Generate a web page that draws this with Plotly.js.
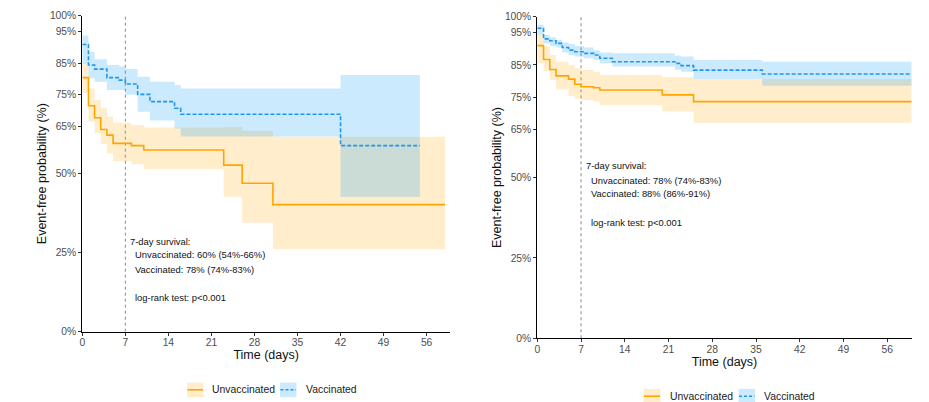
<!DOCTYPE html>
<html><head><meta charset="utf-8">
<script src="https://cdn.plot.ly/plotly-3.0.1.min.js"></script>
<style>html,body{margin:0;padding:0;background:#fff}</style>
</head><body><div id="chart" style="width:929px;height:402px"></div>
<script>
// ---------- DATA ----------
// Left panel
const leftUnvTime  = [0, 1, 2, 3, 4, 5, 8, 10, 23, 26, 31, 59];
const leftUnvSurv  = [80.4, 71.5, 67.7, 64.0, 62.2, 59.6, 58.9, 57.5, 52.7, 47.0, 40.2, 40.2];
const leftUnvUpper = [85.0, 77.0, 73.3, 70.7, 68.0, 66.1, 65.4, 64.6, 64.8, 63.6, 61.7, 61.7];
const leftUnvLower = [75.6, 66.5, 62.8, 59.4, 56.5, 54.0, 53.0, 51.4, 42.7, 34.5, 26.1, 26.1];

const leftVacTime  = [0, 1, 2, 4, 6, 7, 9, 11, 15, 16, 42, 54.9];
const leftVacSurv  = [90.9, 84.4, 83.1, 80.4, 79.6, 78.4, 75.1, 72.8, 70.7, 68.8, 58.9, 58.9];
const leftVacUpper = [93.7, 88.6, 86.2, 84.4, 83.9, 83.1, 80.7, 79.1, 78.1, 77.0, 81.2, 81.2];
const leftVacLower = [84.9, 80.2, 79.1, 76.5, 76.5, 75.0, 69.6, 66.8, 64.3, 61.8, 42.7, 42.7];

// Right panel
const rightUnvTime  = [0, 1, 2, 3, 5, 6, 7, 9, 10, 20, 25, 59.9];
const rightUnvSurv  = [91.0, 86.7, 83.6, 81.6, 80.6, 79.0, 78.2, 77.9, 77.2, 75.7, 73.6, 73.6];
const rightUnvUpper = [94.4, 90.7, 88.1, 86.0, 85.0, 84.0, 83.4, 82.9, 81.9, 81.2, 80.6, 80.6];
const rightUnvLower = [85.5, 83.2, 80.3, 77.4, 75.3, 74.5, 74.1, 73.6, 72.5, 70.5, 67.0, 67.0];

const rightVacTime  = [0, 1, 2, 3, 4, 5, 6, 7.5, 9, 10, 12, 22, 23, 25, 36, 59.9];
const rightVacSurv  = [96.4, 93.1, 92.5, 91.7, 90.4, 89.6, 89.1, 88.6, 88.1, 87.1, 86.0, 85.5, 84.8, 83.4, 82.2, 82.2];
const rightVacUpper = [97.5, 94.3, 93.6, 92.8, 92.0, 91.5, 90.9, 90.4, 89.6, 88.9, 88.6, 87.9, 87.6, 86.5, 86.0, 86.0];
const rightVacLower = [94.4, 91.7, 90.9, 90.4, 88.9, 88.1, 87.6, 87.1, 86.5, 85.5, 84.5, 83.5, 82.9, 80.6, 78.5, 78.5];

// Ticks
const xTickVals = [0, 7, 14, 21, 28, 35, 42, 49, 56];
const yTickVals = [0, 25, 50, 65, 75, 85, 95, 100];
const yTickText = ["0%", "25%", "50%", "65%", "75%", "85%", "95%", "100%"];
const landmarkDay = 7;

// Annotation texts
const leftNote  = ["7-day survival:", "Unvaccinated: 60% (54%-66%)", "Vaccinated: 78% (74%-83%)", "log-rank test: p&lt;0.001"];
const rightNote = ["7-day survival:", "Unvaccinated: 78% (74%-83%)", "Vaccinated: 88% (86%-91%)", "log-rank test: p&lt;0.001"];
const groupNames = ["Unvaccinated", "Vaccinated"];

// ---------- STYLE ----------
const FONT = "Liberation Sans, Arial, Helvetica, sans-serif";
const orange = "#FFA500", blue = "#1E96F0";
const orangeFill = "rgba(255,165,0,0.2)", blueFill = "rgba(20,158,250,0.22)";
const W = 929, H = 402, M = {l: 82, r: 17, t: 15, b: 63};
const PW = W - M.l - M.r, PH = H - M.t - M.b;
const px = x => (x - M.l) / PW;
const py = y => (H - M.b - y) / PH;

function band(t, up, lo, fill, xa, ya) {
  return [
    {x: t, y: up, xaxis: xa, yaxis: ya, mode: "lines", line: {shape: "hv", width: 0, color: fill}, hoverinfo: "skip", showlegend: false},
    {x: t, y: lo, xaxis: xa, yaxis: ya, mode: "lines", line: {shape: "hv", width: 0, color: fill}, fill: "tonexty", fillcolor: fill, hoverinfo: "skip", showlegend: false}
  ];
}
function curve(t, s, color, dash, xa, ya, name) {
  return {x: t, y: s, xaxis: xa, yaxis: ya, mode: "lines", name: name, line: {shape: "hv", width: 1.6, color: color, dash: dash}, showlegend: false};
}

const data = [
  ...band(leftUnvTime, leftUnvUpper, leftUnvLower, orangeFill, "x", "y"),
  ...band(leftVacTime, leftVacUpper, leftVacLower, blueFill, "x", "y"),
  curve(leftUnvTime, leftUnvSurv, orange, "solid", "x", "y", groupNames[0]),
  curve(leftVacTime, leftVacSurv, blue, "4px,2px", "x", "y", groupNames[1]),
  ...band(rightUnvTime, rightUnvUpper, rightUnvLower, orangeFill, "x2", "y2"),
  ...band(rightVacTime, rightVacUpper, rightVacLower, blueFill, "x2", "y2"),
  curve(rightUnvTime, rightUnvSurv, orange, "solid", "x2", "y2", groupNames[0]),
  curve(rightVacTime, rightVacSurv, blue, "4px,2px", "x2", "y2", groupNames[1])
];

const axisCommon = {
  showline: true, linecolor: "#000", linewidth: 1, ticks: "outside", ticklen: 3,
  tickcolor: "#333", tickwidth: 1, showgrid: false, zeroline: false,
  tickfont: {family: FONT, size: 10.3, color: "#4d4d4d"}, fixedrange: true
};
const xTitle = {text: "Time (days)", font: {family: FONT, size: 12.5, color: "#111"}, standoff: 0};
const yTitle = {text: "Event-free probability (%)", font: {family: FONT, size: 12.5, color: "#111"}, standoff: 0};

const layout = {
  width: W, height: H, margin: M, paper_bgcolor: "#fff", plot_bgcolor: "rgba(0,0,0,0)",
  showlegend: false, font: {family: FONT},
  xaxis:  {...axisCommon, domain: [px(82.3), px(450)], range: [0, 59.8], tickvals: xTickVals, anchor: "y", title: xTitle, ticklabelstandoff: -2},
  yaxis:  {...axisCommon, domain: [py(331.7), py(15.7)], range: [0, 100], tickvals: yTickVals, ticktext: yTickText, anchor: "x", title: yTitle},
  xaxis2: {...axisCommon, domain: [px(537.3), px(911.7)], range: [0, 59.9], tickvals: xTickVals, anchor: "y2", title: xTitle, ticklabelstandoff: -2},
  yaxis2: {...axisCommon, domain: [py(338.3), py(16.7)], range: [0, 100], tickvals: yTickVals, ticktext: yTickText, anchor: "x2", title: yTitle},
  shapes: [],
  annotations: []
};

// landmark lines
[["x", "y"], ["x2", "y2"]].forEach(([xa, ya]) => {
  layout.shapes.push({type: "line", xref: xa, yref: ya, x0: landmarkDay, x1: landmarkDay, y0: 0, y1: 100,
    line: {color: "#888", width: 1, dash: "3px,3px"}, layer: "below"});
});

// notes
const leftNoteX = [7.45, 8.3, 8.3, 8.3], leftNoteY = [28.7, 24.3, 19.8, 10.9];
const rightNoteX = [7.45, 8.25, 8.25, 8.25], rightNoteY = [53.7, 49.2, 45.1, 35.9];
leftNote.forEach((t, i) => layout.annotations.push({xref: "x", yref: "y", x: leftNoteX[i], y: leftNoteY[i], text: t,
  showarrow: false, xanchor: "left", yanchor: "middle", font: {family: FONT, size: 9.4, color: "#111"}}));
rightNote.forEach((t, i) => layout.annotations.push({xref: "x2", yref: "y2", x: rightNoteX[i], y: rightNoteY[i], text: t,
  showarrow: false, xanchor: "left", yanchor: "middle", font: {family: FONT, size: 9.4, color: "#111"}}));

// custom legends (ggplot-style keys: filled square + line)
function legendKey(x0, x1, yc, fill, color, dash, label, tx) {
  layout.shapes.push({type: "rect", xref: "paper", yref: "paper", x0: px(x0), x1: px(x1), y0: py(yc + 7.3), y1: py(yc - 7.3),
    fillcolor: fill, line: {width: 0}});
  layout.shapes.push({type: "line", xref: "paper", yref: "paper", x0: px(x0 + 0.5), x1: px(x1 - 0.5), y0: py(yc), y1: py(yc),
    line: {color: color, width: 1.6, dash: dash}});
  layout.annotations.push({xref: "paper", yref: "paper", x: px(tx), y: py(yc), text: label, showarrow: false,
    xanchor: "left", yanchor: "middle", font: {family: FONT, size: 10.4, color: "#1a1a1a"}});
}
legendKey(187, 203.5, 389.8, orangeFill, orange, "solid", groupNames[0], 210);
legendKey(280, 296.5, 389.8, blueFill, blue, "3px,2px", groupNames[1], 303.5);
legendKey(643.5, 660.5, 396.2, orangeFill, orange, "solid", groupNames[0], 668);
legendKey(738.5, 755, 396.2, blueFill, blue, "3px,2px", groupNames[1], 762);

Plotly.newPlot("chart", data, layout, {staticPlot: true, displayModeBar: false});
</script>
</body></html>
